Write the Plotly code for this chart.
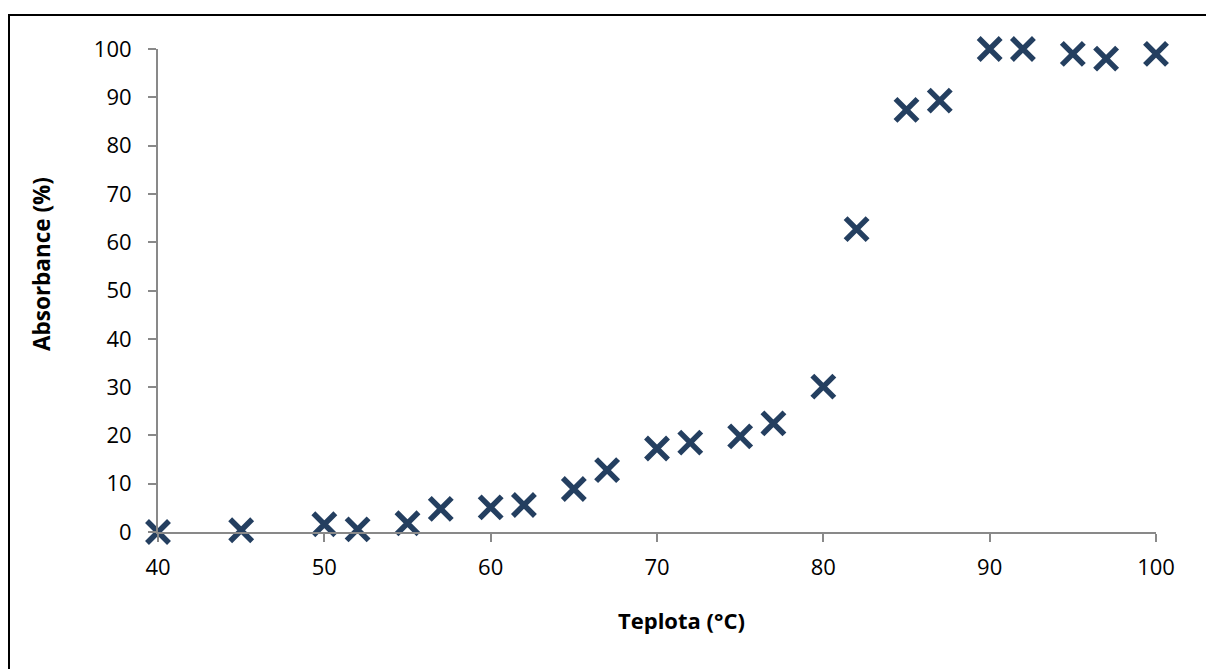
import plotly.graph_objects as go

# Melting curve: absorbance vs temperature
teplota = [40, 45, 50, 52, 55, 57, 60, 62, 65, 67, 70, 72, 75, 77, 80, 82, 85, 87, 90, 92, 95, 97, 100]
absorbance = [0.0, 0.35, 1.6, 0.55, 1.8, 4.8, 5.1, 5.6, 8.9, 12.8, 17.3, 18.5, 19.8, 22.5, 30.1,
              62.7, 87.4, 89.3, 100.0, 100.0, 99.0, 98.0, 99.0]

x_ticks = [40, 50, 60, 70, 80, 90, 100]
y_ticks = [0, 10, 20, 30, 40, 50, 60, 70, 80, 90, 100]

MARK = "#243F60"
AXIS = "#898989"
FONT = "Open Sans, Noto Sans, sans-serif"

W, H = 1206, 669
L, R, T, B = 158, 50, 49, 137

fig = go.Figure()
fig.add_trace(go.Scatter(
    x=teplota, y=absorbance, mode="markers",
    marker=dict(symbol="x-thin", size=22, color=MARK,
                line=dict(color=MARK, width=5.5)),
    cliponaxis=False, showlegend=False,
))

axis_common = dict(
    showgrid=False, zeroline=False, showline=True, linecolor=AXIS, linewidth=2,
    ticks="outside", ticklen=8, tickwidth=2, tickcolor=AXIS,
    tickfont=dict(family=FONT, size=22, color="#000000"),
)
fig.update_xaxes(range=[40, 100], tickvals=x_ticks, ticklabelstandoff=7, **axis_common)
fig.update_yaxes(range=[0, 100], tickvals=y_ticks, ticklabelstandoff=12, **axis_common)

def px_x(p):
    return (p - L) / (W - L - R)

def px_y(p):
    return (H - B - p) / (H - T - B)

fig.add_annotation(text="<b>Teplota (°C)</b>", xref="paper", yref="paper",
                   x=px_x(681), y=px_y(620), showarrow=False,
                   xanchor="center", yanchor="middle",
                   font=dict(family=FONT, size=22, color="#000000"))
fig.add_annotation(text="<b>Absorbance (%)</b>", xref="paper", yref="paper",
                   x=px_x(41), y=px_y(264), showarrow=False, textangle=-90,
                   xanchor="center", yanchor="middle",
                   font=dict(family=FONT, size=22.5, color="#000000"))

# Chart-area frame
fig.add_shape(type="rect", xref="paper", yref="paper",
              x0=px_x(9), y0=px_y(700), x1=px_x(1240), y1=px_y(15),
              line=dict(color="#000000", width=2), layer="below")

fig.update_layout(
    width=W, height=H,
    margin=dict(l=L, r=R, t=T, b=B),
    paper_bgcolor="#FFFFFF", plot_bgcolor="#FFFFFF",
)

fig.write_html("out.html")
